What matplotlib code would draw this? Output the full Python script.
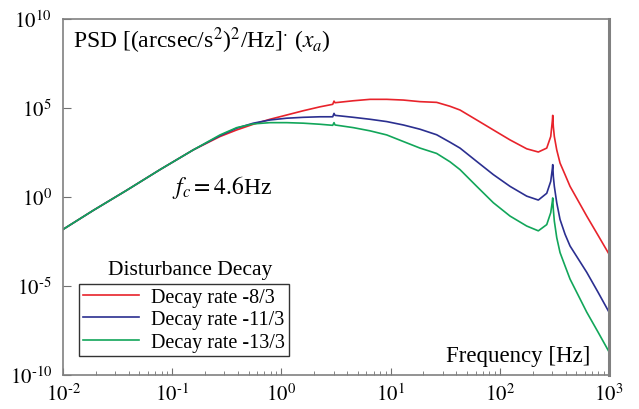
import numpy as np
import matplotlib
matplotlib.use("Agg")
import matplotlib.pyplot as plt
from matplotlib.ticker import FixedLocator, NullLocator, LogLocator, FixedFormatter

plt.rcParams['font.family'] = 'Liberation Serif'
plt.rcParams['mathtext.fontset'] = 'stix'

# log10 of frequency [Hz]
log_freq = [-2.000, -1.7225, -1.4167, -1.1117, -0.8068, -0.5623, -0.4093, -0.2573,
            -0.1044, 0.0485, 0.2005, 0.3535, 0.4698, 0.4817, 0.4908, 0.6584,
            0.8114, 0.9643, 1.1163, 1.2692, 1.4215, 1.5437, 1.6355, 1.7885, 1.9405,
            2.0934, 2.2463, 2.3526, 2.4295, 2.4661, 2.4808, 2.4844, 2.4899,
            2.4991, 2.5211, 2.5513, 2.5971, 2.6429, 2.7958, 2.8993, 3.000]

# log10 of PSD for each decay rate
log_psd_83 = [-1.82, -0.75, 0.38, 1.54, 2.65, 3.40, 3.77, 4.09,
              4.37, 4.61, 4.85, 5.07, 5.21, 5.39, 5.30, 5.41,
              5.49, 5.49, 5.45, 5.36, 5.32, 5.10, 4.89, 4.33, 3.77,
              3.21, 2.71, 2.53, 2.75, 3.40, 4.27, 4.59, 3.96,
              3.40, 2.65, 1.91, 1.26, 0.60, -1.07, -2.15, -3.21]
log_psd_113 = [-1.82, -0.75, 0.38, 1.54, 2.65, 3.45, 3.87, 4.15,
               4.33, 4.43, 4.48, 4.51, 4.51, 4.70, 4.59, 4.48,
               4.37, 4.24, 4.05, 3.81, 3.50, 3.08, 2.75, 2.00, 1.26,
               0.60, 0.05, -0.17, 0.21, 0.88, 1.59, 1.82, 1.16,
               0.60, -0.32, -1.26, -2.09, -2.75, -4.23, -5.35, -6.47]
log_psd_133 = [-1.82, -0.75, 0.38, 1.54, 2.65, 3.49, 3.90, 4.11,
               4.18, 4.18, 4.15, 4.09, 4.03, 4.18, 4.05, 3.90,
               3.72, 3.49, 3.12, 2.75, 2.45, 1.98, 1.54, 0.60, -0.32,
               -1.07, -1.63, -1.90, -1.55, -0.88, -0.25, -0.05, -0.70,
               -1.35, -2.28, -3.12, -3.87, -4.61, -6.47, -7.59, -8.70]

labels = ['Decay rate -8/3', 'Decay rate -11/3', 'Decay rate -13/3']
colors = ['#e8232b', '#2b2f90', '#12a65a']
x_exps = [-2, -1, 0, 1, 2, 3]
y_exps = [-10, -5, 0, 5, 10]

freq = 10.0 ** np.array(log_freq)
series = [10.0 ** np.array(v) for v in (log_psd_83, log_psd_113, log_psd_133)]


def sci_label(e):
    # hyphen instead of a long minus, as in the original
    if e < 0:
        return r'$10^{\text{-}%d}$' % (-e)
    return r'$10^{%d}$' % e


fig = plt.figure(figsize=(6.39, 4.10), dpi=100)
ax = fig.add_axes([0.0986, 0.083, 0.8545, 0.868])

lines = []
for psd, lab, col in zip(series, labels, colors):
    ln, = ax.plot(freq, psd, color=col, lw=1.2, label=lab)
    lines.append(ln)

ax.set_xscale('log')
ax.set_yscale('log')
ax.set_xlim(1e-2, 1e3)
ax.set_ylim(1e-10, 1e10)

ax.xaxis.set_major_locator(FixedLocator([10.0 ** e for e in x_exps]))
ax.xaxis.set_major_formatter(FixedFormatter([sci_label(e) for e in x_exps]))
ax.xaxis.set_minor_locator(LogLocator(base=10, subs=np.arange(2, 10), numticks=20))
ax.yaxis.set_major_locator(FixedLocator([10.0 ** e for e in y_exps]))
ax.yaxis.set_major_formatter(FixedFormatter([sci_label(e) for e in y_exps]))
ax.yaxis.set_minor_locator(NullLocator())

ax.tick_params(axis='both', which='both', direction='in', top=False, right=False,
               color='#707070', labelsize=15)
ax.tick_params(axis='x', which='major', length=5, pad=6)
ax.tick_params(axis='x', which='minor', length=3)
ax.tick_params(axis='y', which='major', length=6, pad=8)

for side, sp in ax.spines.items():
    sp.set_color('#808080')
    sp.set_linewidth(1.2)
ax.spines['right'].set_linewidth(2.2)

ax.text(0.018, 0.921, r'PSD [(arcsec/s$^2$)$^2$/Hz]$^{\cdot}$ ($x_a$)',
        transform=ax.transAxes, fontsize=17, va='baseline', ha='left')
ax.text(0.965, 0.025, 'Frequency [Hz]', transform=ax.transAxes,
        fontsize=16.5, va='bottom', ha='right')
ax.text(0.2, 0.53, r'$f_c = 4.6$Hz', transform=ax.transAxes,
        fontsize=17, va='center', ha='left')
ax.text(0.232, 0.295, 'Disturbance Decay', transform=ax.transAxes,
        fontsize=15.5, va='center', ha='center')

leg = ax.legend(handles=lines, loc='upper left', bbox_to_anchor=(0.029, 0.255),
                fontsize=14.5, frameon=True, fancybox=False, handlelength=2.8,
                handletextpad=0.6, labelspacing=0.15, borderpad=0.2,
                borderaxespad=0)
leg.get_frame().set_edgecolor('black')
leg.get_frame().set_linewidth(1.0)

fig.savefig('out.png', dpi=100)
